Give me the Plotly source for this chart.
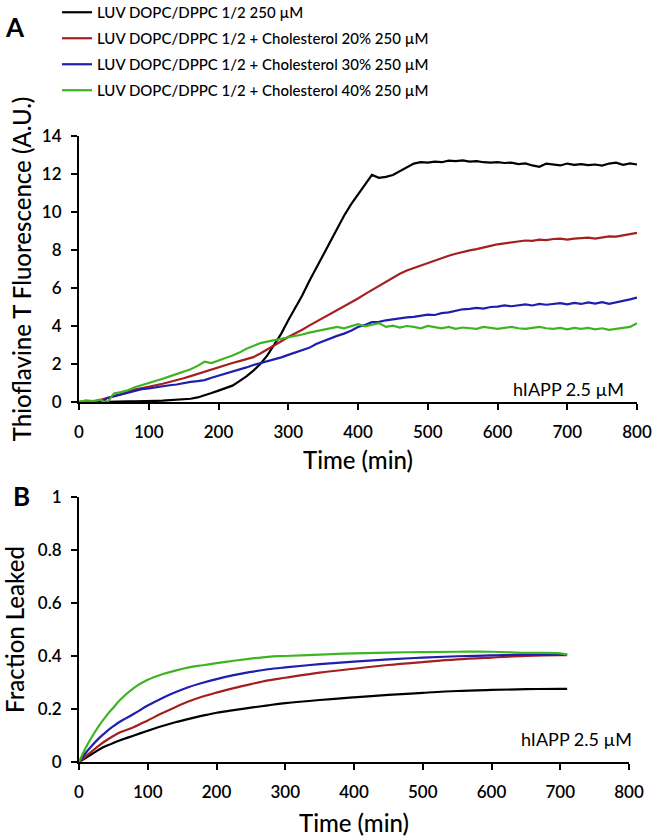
import plotly.graph_objects as go

# ---------------- Data ----------------
# Panel A: Thioflavine T fluorescence (A.U.) vs time (min)
time_a = list(range(0, 801, 10))

tht_chol0 = [0, 0.02, 0, 0.03, 0.01, 0.03, 0.02, 0.04, 0.03, 0.05,
             0.04, 0.06, 0.07, 0.09, 0.1, 0.13, 0.17, 0.24, 0.34, 0.47,
             0.6, 0.72, 0.86, 1.1, 1.35, 1.65, 2.0, 2.45, 3.0, 3.6,
             4.3, 4.95, 5.6, 6.35, 7.05, 7.75, 8.45, 9.1, 9.8, 10.4,
             10.9, 11.45, 11.95, 11.8, 11.85, 11.95, 12.15, 12.35, 12.55, 12.62,
             12.6, 12.65, 12.62, 12.7, 12.68, 12.72, 12.65, 12.68, 12.62, 12.6,
             12.62, 12.58, 12.6, 12.52, 12.56, 12.45, 12.38, 12.55, 12.5, 12.45,
             12.55, 12.48, 12.52, 12.47, 12.5, 12.44, 12.55, 12.6, 12.48, 12.56,
             12.5]

tht_chol20 = [0, 0.02, 0, 0.1, 0.2, 0.3, 0.42, 0.52, 0.65, 0.74,
              0.82, 0.88, 0.96, 1.05, 1.13, 1.25, 1.36, 1.48, 1.6, 1.72,
              1.83, 1.95, 2.05, 2.15, 2.25, 2.36, 2.55, 2.78, 2.98, 3.2,
              3.42, 3.6, 3.8, 4.02, 4.22, 4.43, 4.63, 4.82, 5.02, 5.23,
              5.45, 5.68, 5.9, 6.12, 6.33, 6.55, 6.75, 6.92, 7.05, 7.2,
              7.35, 7.45, 7.58, 7.7, 7.8, 7.9, 7.98, 8.05, 8.15, 8.22,
              8.3, 8.35, 8.4, 8.45, 8.5, 8.48, 8.55, 8.52, 8.58, 8.6,
              8.55, 8.6, 8.62, 8.65, 8.6, 8.68, 8.72, 8.7, 8.78, 8.82,
              8.9]

tht_chol30 = [0, 0.02, -0.02, -0.08, 0.2, 0.3, 0.38, 0.48, 0.6, 0.68,
              0.72, 0.78, 0.83, 0.88, 0.92, 1.0, 1.06, 1.1, 1.15, 1.28,
              1.38, 1.48, 1.6, 1.72, 1.82, 1.95, 2.05, 2.13, 2.22, 2.35,
              2.48, 2.6, 2.75, 2.85, 3.05, 3.2, 3.35, 3.48, 3.6, 3.75,
              3.95, 4.05, 4.2, 4.22, 4.3, 4.35, 4.42, 4.45, 4.48, 4.55,
              4.6, 4.58, 4.68, 4.72, 4.78, 4.88, 4.9, 4.95, 4.92, 5.0,
              5.02, 5.08, 5.04, 5.1, 5.14, 5.08, 5.16, 5.12, 5.15, 5.2,
              5.14, 5.22, 5.16, 5.24, 5.18, 5.26, 5.17, 5.24, 5.32, 5.4,
              5.5]

tht_chol40 = [0, 0.08, 0.05, 0.12, -0.05, 0.45, 0.52, 0.62, 0.78, 0.88,
              0.98, 1.1, 1.22, 1.35, 1.48, 1.6, 1.72, 1.9, 2.12, 2.05,
              2.2, 2.32, 2.45, 2.6, 2.8, 2.95, 3.1, 3.18, 3.25, 3.35,
              3.4, 3.5, 3.55, 3.65, 3.72, 3.8, 3.85, 3.95, 3.88, 4.0,
              4.1, 3.98, 4.05, 4.15, 3.95, 4.02, 3.92, 4.0, 3.95, 3.88,
              4.0, 3.92, 3.88, 3.95, 3.85, 3.92, 3.9, 3.85, 3.95, 3.9,
              3.85, 3.9, 3.95, 3.88, 3.85, 3.9, 3.95, 3.88, 3.85, 3.9,
              3.82, 3.9, 3.85, 3.9, 3.82, 3.88, 3.8, 3.85, 3.9, 3.95,
              4.15]

# Panel B: fraction leaked vs time (min)
time_b = [0, 10, 20, 30, 40, 50, 60, 80, 100, 120, 140, 160, 180, 200,
          225, 250, 275, 300, 350, 400, 450, 500, 550, 600, 650, 700, 710]

leak_chol0 = [0, 0.016, 0.032, 0.048, 0.061, 0.072, 0.082, 0.1, 0.118, 0.135,
              0.15, 0.163, 0.175, 0.186, 0.196, 0.205, 0.214, 0.222, 0.234,
              0.244, 0.253, 0.261, 0.268, 0.272, 0.275, 0.276, 0.276]
leak_chol20 = [0, 0.022, 0.043, 0.064, 0.082, 0.098, 0.112, 0.132, 0.157, 0.183,
               0.207, 0.229, 0.247, 0.262, 0.279, 0.294, 0.308, 0.318, 0.337,
               0.352, 0.366, 0.377, 0.387, 0.394, 0.4, 0.403, 0.403]
leak_chol30 = [0, 0.035, 0.065, 0.092, 0.115, 0.135, 0.153, 0.182, 0.213, 0.24,
               0.263, 0.283, 0.299, 0.313, 0.328, 0.34, 0.35, 0.357, 0.369,
               0.379, 0.387, 0.394, 0.399, 0.402, 0.405, 0.405, 0.405]
leak_chol40 = [0, 0.055, 0.1, 0.14, 0.175, 0.205, 0.235, 0.28, 0.31, 0.33,
               0.345, 0.357, 0.365, 0.373, 0.382, 0.39, 0.397, 0.4, 0.405,
               0.41, 0.413, 0.415, 0.416, 0.416, 0.412, 0.41, 0.405]

series_names = [
    "LUV DOPC/DPPC 1/2 250 µM",
    "LUV DOPC/DPPC 1/2 + Cholesterol 20% 250 µM",
    "LUV DOPC/DPPC 1/2 + Cholesterol 30% 250 µM",
    "LUV DOPC/DPPC 1/2 + Cholesterol 40% 250 µM",
]
series_colors = ["#000000", "#a4201f", "#1f1fae", "#3fb423"]

x_ticks = [0, 100, 200, 300, 400, 500, 600, 700, 800]
ya_ticks = [0, 2, 4, 6, 8, 10, 12, 14]
yb_ticks = [0, 0.2, 0.4, 0.6, 0.8, 1]
yb_ticklabels = ["0", "0.2", "0.4", "0.6", "0.8", "1"]

# ---------------- Figure ----------------
FONT = "Lato"
fig = go.Figure()

tht = [tht_chol0, tht_chol20, tht_chol30, tht_chol40]
leak = [leak_chol0, leak_chol20, leak_chol30, leak_chol40]

for i, (name, col, yv) in enumerate(zip(series_names, series_colors, tht)):
    fig.add_trace(go.Scatter(x=time_a, y=yv, mode="lines", name=name,
                             line=dict(color=col, width=2.2),
                             legendgroup=f"g{i}",
                             xaxis="x", yaxis="y", showlegend=True))
for i, (name, col, yv) in enumerate(zip(series_names, series_colors, leak)):
    fig.add_trace(go.Scatter(x=time_b, y=yv, mode="lines", name=name,
                             line=dict(color=col, width=2.2, shape="spline"),
                             legendgroup=f"g{i}",
                             xaxis="x2", yaxis="y2", showlegend=False))

W, H = 657, 838
L, R, T, B = 79, 20, 136, 76
pw = W - L - R
ph = H - T - B

def py(p):
    return (H - B - p) / ph

def px(p):
    return (p - L) / pw

tick_font = dict(family=FONT, size=17, color="black", weight=600)
title_font = dict(family=FONT, size=24, color="black", weight=500)

axis_common = dict(showline=True, linecolor="black", linewidth=2,
                   ticks="outside", ticklen=6, tickwidth=2, tickcolor="black",
                   showgrid=False, zeroline=False, automargin=False,
                   tickfont=tick_font)

fig.update_layout(
    template="none",
    width=W, height=H,
    margin=dict(l=L, r=R, t=T, b=B, autoexpand=False),
    paper_bgcolor="white", plot_bgcolor="white",
    font=dict(family=FONT, color="black"),
    xaxis=dict(domain=[0, 1], anchor="y", range=[0, 800], tickvals=x_ticks,
               ticklabelstandoff=8,
               title=dict(text="Time (min)", font=title_font, standoff=11),
               **axis_common),
    yaxis=dict(domain=[py(402), 1], anchor="x", range=[0, 14], tickvals=ya_ticks,
               ticklabelstandoff=6,
               title=dict(text="Thioflavine T Fluorescence (A.U.)",
                          font=title_font, standoff=3),
               **axis_common),
    xaxis2=dict(domain=[0, px(629)], anchor="y2", range=[0, 800], tickvals=x_ticks,
                ticklabelstandoff=8,
                title=dict(text="Time (min)", font=title_font, standoff=14),
                **axis_common),
    yaxis2=dict(domain=[0, py(497)], anchor="x2", range=[0, 1], tickvals=yb_ticks,
                ticktext=yb_ticklabels, ticklabelstandoff=6,
                title=dict(text="Fraction Leaked", font=title_font, standoff=19),
                **axis_common),
    legend=dict(x=px(57), y=py(-4), xanchor="left", yanchor="top",
                font=dict(family=FONT, size=15, color="black", weight=500),
                bgcolor="rgba(0,0,0,0)", borderwidth=0, tracegroupgap=3.5),
    showlegend=True,
)

fig.add_annotation(text="<b>A</b>", x=px(15), y=py(27), xref="paper", yref="paper",
                   xanchor="center", yanchor="middle",
                   showarrow=False, font=dict(family=FONT, size=26, color="black"))
fig.add_annotation(text="<b>B</b>", x=px(21), y=py(496), xref="paper", yref="paper",
                   xanchor="center", yanchor="middle",
                   showarrow=False, font=dict(family=FONT, size=26, color="black"))
fig.add_annotation(text="hIAPP 2.5 µM", x=780, y=0.7, xref="x", yref="y",
                   xanchor="right", yanchor="middle", showarrow=False, xshift=3,
                   font=dict(family=FONT, size=18, color="black"))
fig.add_annotation(text="hIAPP 2.5 µM", x=800, y=0.086, xref="x2", yref="y2",
                   xanchor="right", yanchor="middle", showarrow=False, xshift=5,
                   font=dict(family=FONT, size=18, color="black"))

fig.write_html("out.html", config={"displayModeBar": False},
               post_script="document.body.style.margin='0';")
